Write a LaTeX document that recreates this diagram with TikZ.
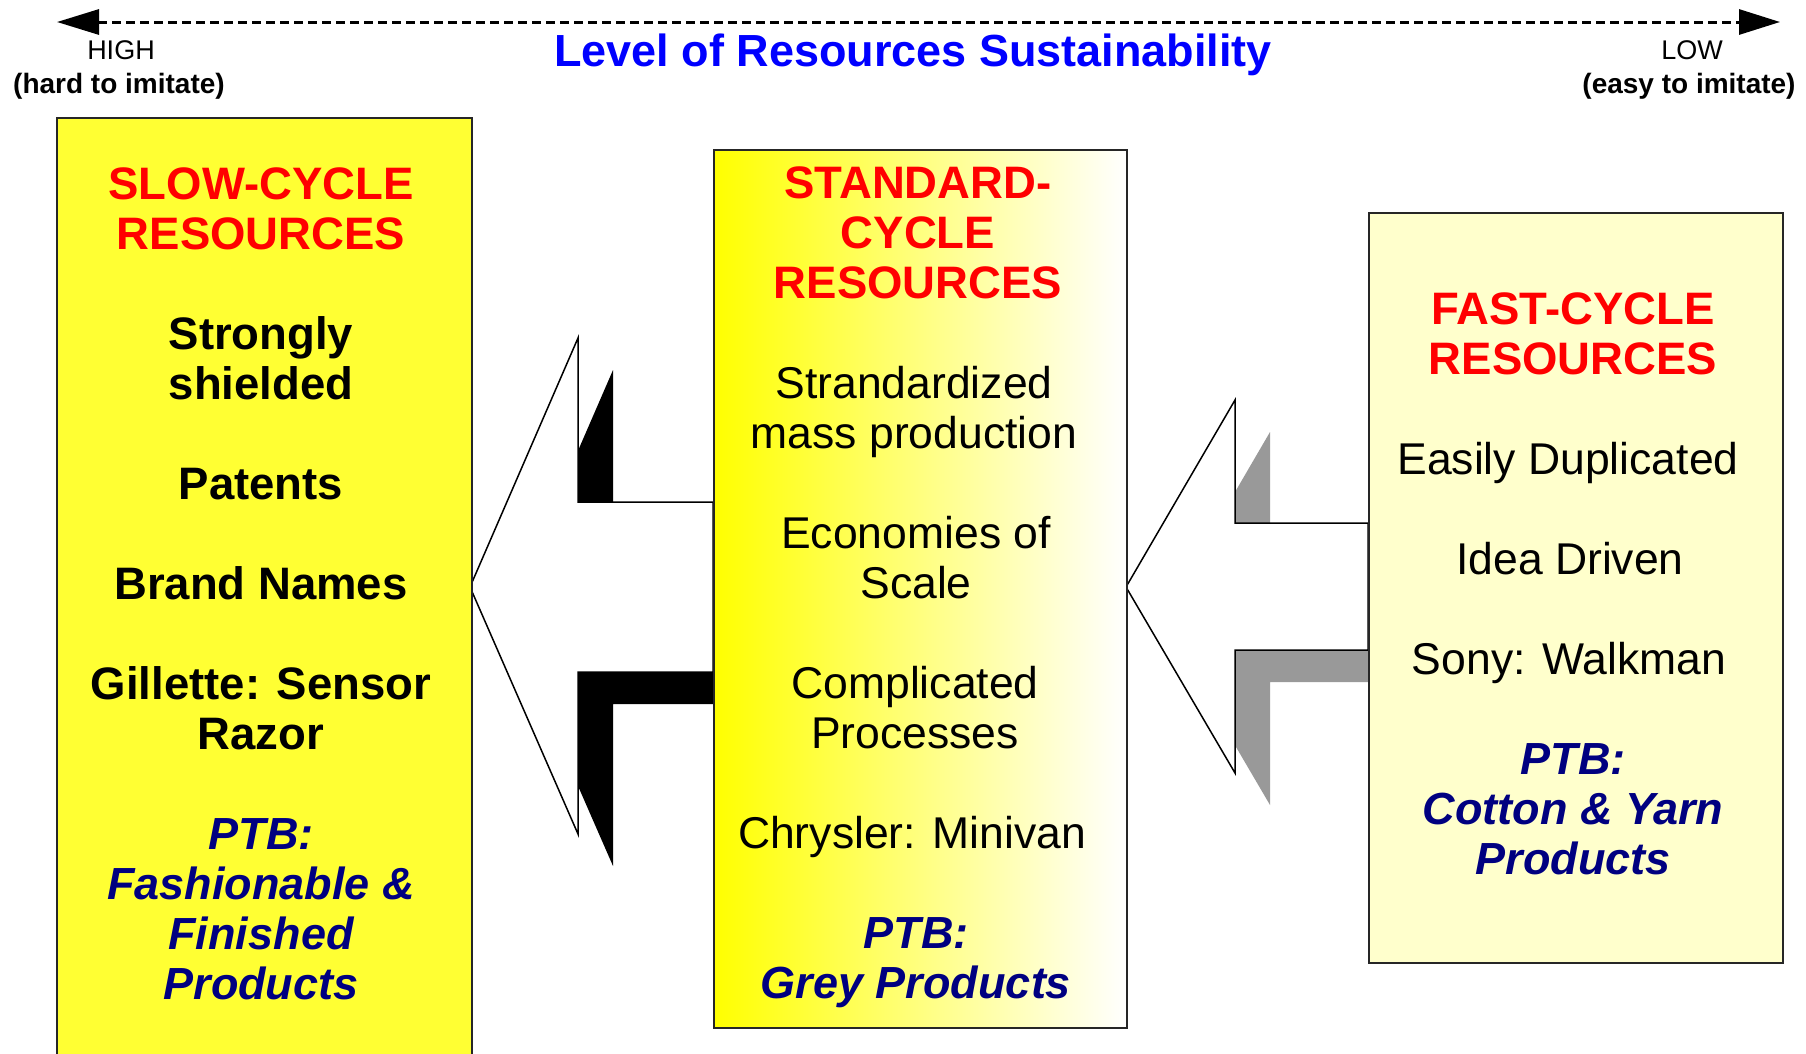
\documentclass[tikz,border=0pt]{standalone}
\usepackage{fontspec}
\setmainfont{Liberation Sans}
\usetikzlibrary{arrows.meta}
\definecolor{slowfill}{HTML}{FFFF33}
\definecolor{fastfill}{HTML}{FFFFCC}
\definecolor{ptbblue}{HTML}{000080}
\definecolor{titleblue}{HTML}{0000FF}
\definecolor{shadegray}{HTML}{999999}
\begin{document}
\begin{tikzpicture}[x=1pt,y=-1pt,
  boxframe/.style={draw=black!85, line width=2pt, inner sep=0pt, anchor=north west},
  bigarrow/.style={draw=black, line width=1.5pt, fill=white, line join=miter},
  txt/.style={anchor=base, inner sep=0pt, font=\fontsize{44.5}{50}\selectfont},
  headline/.style={txt, font=\fontsize{45.5}{50}\selectfont\bfseries, text=red},
  strongline/.style={txt, font=\fontsize{45.5}{50}\selectfont\bfseries},
  plainline/.style={txt},
  ptbline/.style={txt, font=\fontsize{45}{50}\selectfont\bfseries\itshape, text=ptbblue},
  endlabel/.style={anchor=base, inner sep=0pt, font=\fontsize{27}{30}\selectfont},
  endnote/.style={anchor=base, inner sep=0pt, font=\fontsize{28}{30}\selectfont\bfseries}
]
\useasboundingbox (0,0) rectangle (1806,1053);
\clip (0,0) rectangle (1806,1053);
\fill[white] (0,0) rectangle (1806,1053);

% sustainability scale
\coordinate (hiend) at (57,22);
\coordinate (loend) at (1780,22);
\draw[line width=3pt, dash pattern=on 9pt off 5pt,
      {Triangle[length=42pt,width=25pt]}-{Triangle[length=41pt,width=25pt]}]
  (hiend) -- (loend);
\node[endlabel] (high) at (121,59) {HIGH};
\node[endnote] (hardnote) at (119,93) {(hard to imitate)};
\node[endlabel] (low) at (1692,59) {LOW};
\node[endnote] (easynote) at (1689,93) {(easy to imitate)};
\node[anchor=base, inner sep=0pt, text=titleblue,
      font=\fontsize{45}{50}\selectfont\bfseries] (title) at (913,66)
  {Level of Resources Sustainability};

% block arrows with drop shadows
\fill[black, shift={(35,32)}]
  (470,587) -- (578,338) -- (578,502) -- (713,502) -- (713,672)
  -- (578,672) -- (578,834) -- cycle;
\draw[bigarrow]
  (470,587) -- (578,338) -- (578,502) -- (713,502) -- (713,672)
  -- (578,672) -- (578,834) -- cycle;
\fill[shadegray, shift={(35,32)}]
  (1126,587) -- (1235,400) -- (1235,523) -- (1368,523) -- (1368,650)
  -- (1235,650) -- (1235,773) -- cycle;
\draw[bigarrow]
  (1126,587) -- (1235,400) -- (1235,523) -- (1368,523) -- (1368,650)
  -- (1235,650) -- (1235,773) -- cycle;

% resource boxes
\node[boxframe, fill=slowfill, minimum width=415pt, minimum height=960pt]
  (slow) at (56,117) {};
\node[boxframe, left color=yellow, middle color=yellow!62!white, right color=white,
      minimum width=413pt, minimum height=878pt]
  (standard) at (713,149) {};
\node[boxframe, fill=fastfill, minimum width=414pt, minimum height=750pt]
  (fast) at (1368,212) {};

% slow-cycle text
\node[headline] (s1) at (261,199) {SLOW-CYCLE};
\node[headline] (s2) at (261,249) {RESOURCES};
\node[strongline] (s3) at (261,349) {Strongly};
\node[strongline] (s4) at (261,399) {shielded};
\node[strongline] (s5) at (261,499) {Patents};
\node[strongline] (s6) at (261,599) {Brand Names};
\node[strongline] (s7) at (261,699) {Gillette: Sensor};
\node[strongline] (s8) at (261,749) {Razor};
\node[ptbline] (s9) at (261,849) {PTB:};
\node[ptbline] (s10) at (261,899) {Fashionable \&};
\node[ptbline] (s11) at (261,949) {Finished};
\node[ptbline] (s12) at (261,999) {Products};

% standard-cycle text
\node[headline] (m1) at (918,198) {STANDARD-};
\node[headline] (m2) at (918,248) {CYCLE};
\node[headline] (m3) at (918,298) {RESOURCES};
\node[plainline] (m4) at (914,398) {Strandardized};
\node[plainline] (m5) at (914,448) {mass production};
\node[plainline] (m6) at (916,548) {Economies of};
\node[plainline] (m7) at (916,598) {Scale};
\node[plainline] (m8) at (915,698) {Complicated};
\node[plainline] (m9) at (915,748) {Processes};
\node[plainline] (m10) at (912,848) {Chrysler: Minivan};
\node[ptbline] (m11) at (916,948) {PTB:};
\node[ptbline] (m12) at (916,998) {Grey Products};

% fast-cycle text
\node[headline] (f1) at (1573,324) {FAST-CYCLE};
\node[headline] (f2) at (1573,374) {RESOURCES};
\node[plainline] (f3) at (1568,474) {Easily Duplicated};
\node[plainline] (f4) at (1570,574) {Idea Driven};
\node[plainline] (f5) at (1569,674) {Sony: Walkman};
\node[ptbline] (f6) at (1573,774) {PTB:};
\node[ptbline] (f7) at (1573,824) {Cotton \& Yarn};
\node[ptbline] (f8) at (1573,874) {Products};
\end{tikzpicture}
\end{document}
